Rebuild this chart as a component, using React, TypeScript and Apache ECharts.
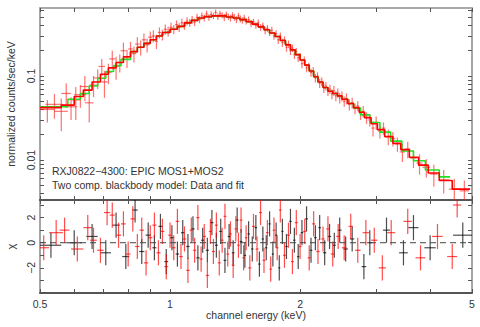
import React, { useEffect, useRef } from 'react';
import * as echarts from 'echarts';

// ---------- data ----------
// model step functions: bin edges (keV) and model values (counts/sec/keV)
const redEdges = [0.5, 0.56, 0.6, 0.63, 0.66, 0.69, 0.72, 0.75, 0.78, 0.81, 0.84, 0.87, 0.9, 0.93, 0.96, 1.0, 1.04, 1.08, 1.12, 1.16, 1.2, 1.25, 1.3, 1.35, 1.4, 1.45, 1.5, 1.55, 1.6, 1.65, 1.7, 1.75, 1.8, 1.85, 1.9, 1.95, 2.0, 2.05, 2.1, 2.15, 2.2, 2.26, 2.32, 2.38, 2.44, 2.5, 2.58, 2.66, 2.74, 2.82, 2.92, 3.02, 3.14, 3.28, 3.42, 3.58, 3.76, 3.96, 4.2, 4.5, 4.95];
const redModel = [0.042, 0.045, 0.057, 0.068, 0.085, 0.105, 0.125, 0.145, 0.17, 0.195, 0.22, 0.245, 0.27, 0.30, 0.33, 0.36, 0.39, 0.43, 0.46, 0.49, 0.51, 0.52, 0.52, 0.505, 0.49, 0.47, 0.445, 0.415, 0.385, 0.355, 0.325, 0.295, 0.265, 0.235, 0.205, 0.18, 0.155, 0.135, 0.115, 0.098, 0.085, 0.073, 0.066, 0.062, 0.058, 0.053, 0.047, 0.042, 0.037, 0.032, 0.027, 0.023, 0.019, 0.0158, 0.0133, 0.0108, 0.0087, 0.0070, 0.0057, 0.0045];
const greenEdges = [0.5, 0.58, 0.62, 0.65, 0.68, 0.71, 0.74, 0.77, 0.81, 0.84, 0.87, 0.9, 0.93, 0.96, 1.0, 1.04, 1.08, 1.12, 1.16, 1.2, 1.25, 1.3, 1.35, 1.4, 1.45, 1.5, 1.55, 1.6, 1.65, 1.7, 1.75, 1.8, 1.85, 1.9, 1.95, 2.0, 2.05, 2.1, 2.15, 2.2, 2.26, 2.32, 2.38, 2.44, 2.5, 2.58, 2.66, 2.76, 2.9, 3.06, 3.24, 3.44, 3.66, 3.9, 4.2, 4.45];
const greenModel = [0.043, 0.053, 0.062, 0.076, 0.094, 0.113, 0.133, 0.158, 0.195, 0.22, 0.245, 0.27, 0.30, 0.33, 0.36, 0.39, 0.43, 0.46, 0.49, 0.51, 0.52, 0.52, 0.505, 0.49, 0.47, 0.445, 0.415, 0.385, 0.355, 0.325, 0.295, 0.265, 0.235, 0.205, 0.18, 0.155, 0.135, 0.115, 0.098, 0.085, 0.073, 0.066, 0.062, 0.058, 0.053, 0.047, 0.0415, 0.0345, 0.028, 0.0215, 0.0168, 0.0128, 0.0098, 0.0076, 0.0063];

// spectrum points: [energy, half bin width, value, 1-sigma error]
const spectrumRows = [
  [0.52, 0.02, 0.040, 0.012], [0.54, 0.025, 0.046, 0.015], [0.56, 0.02, 0.038, 0.016], [0.575, 0.015, 0.062, 0.02],
  [0.59, 0.02, 0.043, 0.013], [0.605, 0.015, 0.052, 0.022], [0.62, 0.02, 0.060, 0.018], [0.635, 0.015, 0.075, 0.025],
  [0.65, 0.015, 0.048, 0.02], [0.665, 0.015, 0.078, 0.022], [0.68, 0.015, 0.095, 0.025], [0.695, 0.012, 0.13, 0.03],
  [0.705, 0.012, 0.085, 0.03], [0.72, 0.012, 0.11, 0.03], [0.735, 0.012, 0.16, 0.04], [0.75, 0.012, 0.13, 0.04],
  [0.765, 0.012, 0.145, 0.035], [0.78, 0.012, 0.2, 0.05], [0.795, 0.01, 0.165, 0.04], [0.81, 0.01, 0.21, 0.045],
  [0.825, 0.01, 0.185, 0.04], [0.84, 0.01, 0.24, 0.05], [0.855, 0.01, 0.22, 0.045], [0.87, 0.01, 0.27, 0.05],
  [0.885, 0.01, 0.235, 0.045], [0.9, 0.01, 0.29, 0.05], [0.915, 0.008, 0.3, 0.05], [0.93, 0.008, 0.26, 0.05],
  [0.945, 0.008, 0.33, 0.05], [0.96, 0.008, 0.31, 0.045], [0.975, 0.008, 0.36, 0.05], [0.99, 0.008, 0.34, 0.045],
  [1.005, 0.008, 0.38, 0.05], [1.02, 0.008, 0.36, 0.045], [1.035, 0.008, 0.41, 0.05], [1.05, 0.008, 0.38, 0.045],
  [1.065, 0.008, 0.43, 0.05], [1.08, 0.008, 0.40, 0.045], [1.095, 0.008, 0.45, 0.05], [1.11, 0.008, 0.43, 0.045],
  [1.125, 0.008, 0.47, 0.05], [1.14, 0.008, 0.44, 0.045], [1.155, 0.008, 0.5, 0.05], [1.17, 0.008, 0.47, 0.045],
  [1.185, 0.008, 0.52, 0.05], [1.2, 0.008, 0.49, 0.045], [1.215, 0.008, 0.55, 0.05], [1.23, 0.008, 0.5, 0.045],
  [1.245, 0.008, 0.54, 0.05], [1.26, 0.008, 0.52, 0.045], [1.275, 0.008, 0.57, 0.05], [1.29, 0.008, 0.51, 0.045],
  [1.305, 0.008, 0.55, 0.05], [1.32, 0.008, 0.53, 0.045], [1.335, 0.008, 0.5, 0.05], [1.35, 0.008, 0.54, 0.045],
  [1.365, 0.008, 0.51, 0.045], [1.38, 0.008, 0.49, 0.045], [1.395, 0.008, 0.53, 0.045], [1.41, 0.008, 0.5, 0.045],
  [1.425, 0.008, 0.47, 0.045], [1.44, 0.008, 0.52, 0.045], [1.455, 0.008, 0.48, 0.045], [1.47, 0.008, 0.46, 0.04],
  [1.485, 0.008, 0.49, 0.045], [1.5, 0.008, 0.45, 0.04], [1.52, 0.01, 0.47, 0.04], [1.54, 0.01, 0.42, 0.04],
  [1.56, 0.01, 0.44, 0.04], [1.58, 0.01, 0.4, 0.035], [1.6, 0.01, 0.43, 0.04], [1.62, 0.01, 0.38, 0.035],
  [1.64, 0.01, 0.40, 0.035], [1.66, 0.01, 0.35, 0.035], [1.68, 0.01, 0.37, 0.035], [1.7, 0.01, 0.33, 0.03],
  [1.72, 0.01, 0.35, 0.035], [1.74, 0.01, 0.3, 0.03], [1.76, 0.01, 0.32, 0.03], [1.78, 0.01, 0.27, 0.03],
  [1.8, 0.01, 0.3, 0.03], [1.82, 0.01, 0.25, 0.028], [1.84, 0.01, 0.27, 0.028], [1.86, 0.01, 0.22, 0.025],
  [1.88, 0.01, 0.24, 0.025], [1.9, 0.01, 0.2, 0.022], [1.92, 0.01, 0.215, 0.022], [1.94, 0.01, 0.18, 0.02],
  [1.96, 0.01, 0.195, 0.02], [1.98, 0.01, 0.165, 0.018], [2.0, 0.01, 0.17, 0.018], [2.02, 0.012, 0.14, 0.016],
  [2.045, 0.012, 0.155, 0.016], [2.07, 0.012, 0.125, 0.014], [2.095, 0.012, 0.13, 0.014], [2.12, 0.012, 0.11, 0.012],
  [2.145, 0.012, 0.115, 0.013], [2.17, 0.012, 0.095, 0.011], [2.195, 0.012, 0.1, 0.011], [2.22, 0.012, 0.082, 0.01],
  [2.245, 0.012, 0.086, 0.01], [2.27, 0.012, 0.072, 0.009], [2.295, 0.012, 0.076, 0.009], [2.32, 0.012, 0.066, 0.008],
  [2.345, 0.012, 0.07, 0.009], [2.37, 0.012, 0.061, 0.008], [2.395, 0.012, 0.067, 0.009], [2.42, 0.012, 0.058, 0.008],
  [2.445, 0.012, 0.063, 0.008], [2.47, 0.012, 0.055, 0.008], [2.5, 0.015, 0.058, 0.008], [2.53, 0.015, 0.05, 0.007],
  [2.56, 0.015, 0.054, 0.008], [2.6, 0.02, 0.046, 0.007], [2.64, 0.02, 0.048, 0.007], [2.68, 0.02, 0.041, 0.006],
  [2.72, 0.02, 0.044, 0.006], [2.76, 0.02, 0.036, 0.006], [2.8, 0.02, 0.038, 0.006], [2.85, 0.025, 0.032, 0.005],
  [2.9, 0.025, 0.03, 0.005], [2.95, 0.025, 0.024, 0.005], [3.0, 0.03, 0.028, 0.005], [3.06, 0.03, 0.022, 0.004],
  [3.12, 0.03, 0.024, 0.004], [3.2, 0.04, 0.019, 0.004], [3.28, 0.04, 0.018, 0.0035], [3.36, 0.04, 0.0155, 0.003],
  [3.45, 0.05, 0.0125, 0.003], [3.55, 0.05, 0.0135, 0.003], [3.66, 0.06, 0.0105, 0.0025], [3.78, 0.06, 0.0092, 0.0025],
  [3.92, 0.08, 0.0082, 0.002], [4.08, 0.08, 0.0068, 0.002], [4.3, 0.12, 0.0058, 0.0018], [4.55, 0.13, 0.0045, 0.0015],
  [4.8, 0.12, 0.0043, 0.0014],
];

// residuals in sigma units: [energy, half bin width, chi]
const residBlack = [
  [0.53, 0.03, -0.2], [0.6, 0.025, 0.0], [0.66, 0.02, 0.5], [0.71, 0.02, -0.8], [0.75, 0.015, 1.4],
  [0.79, 0.015, -1.1], [0.83, 0.012, 2.6], [0.86, 0.012, -0.7], [0.89, 0.012, 0.6], [0.92, 0.01, -0.4],
  [0.95, 0.01, 1.3], [0.98, 0.01, -1.5], [1.01, 0.01, 0.4], [1.04, 0.01, -0.9], [1.07, 0.01, 0.8],
  [1.1, 0.01, -0.3], [1.13, 0.01, 1.1], [1.16, 0.01, -1.2], [1.19, 0.01, 0.2], [1.22, 0.01, -0.6],
  [1.25, 0.01, 1.6], [1.28, 0.01, -0.2], [1.31, 0.01, 0.9], [1.34, 0.01, -1.4], [1.37, 0.01, 0.5],
  [1.4, 0.01, -0.8], [1.43, 0.01, 1.8], [1.46, 0.01, 0.1], [1.49, 0.01, -1.0], [1.52, 0.01, 0.7],
  [1.55, 0.01, -0.5], [1.58, 0.01, 1.2], [1.61, 0.01, -1.7], [1.64, 0.01, 0.3], [1.67, 0.01, -0.4],
  [1.7, 0.01, 1.5], [1.73, 0.01, -0.9], [1.76, 0.01, 0.6], [1.79, 0.01, -2.0], [1.82, 0.01, 0.9],
  [1.86, 0.012, -0.3], [1.9, 0.012, 1.7], [1.94, 0.012, 0.2], [1.98, 0.012, -1.1], [2.02, 0.015, 0.8],
  [2.07, 0.015, 1.9], [2.12, 0.015, -0.6], [2.17, 0.015, 0.4], [2.22, 0.015, 1.2], [2.28, 0.02, -0.8],
  [2.34, 0.02, 0.5], [2.4, 0.02, -0.2], [2.47, 0.025, 1.0], [2.55, 0.03, -0.5], [2.64, 0.03, 0.3],
  [2.81, 0.035, -1.9], [2.9, 0.04, 0.0], [3.17, 0.06, 1.0], [3.47, 0.08, -0.8], [3.66, 0.1, 1.2],
  [4.0, 0.12, -0.4], [4.76, 0.24, 0.6],
];
const residRed = [
  [0.51, 0.015, -0.4], [0.545, 0.02, 0.8], [0.57, 0.015, 1.0], [0.61, 0.02, -0.5], [0.645, 0.015, 1.2],
  [0.665, 0.012, 0.2], [0.69, 0.012, -0.6], [0.715, 0.012, 2.4], [0.735, 0.01, 2.2], [0.76, 0.01, 0.6],
  [0.78, 0.01, 1.5], [0.8, 0.01, -0.9], [0.82, 0.01, 1.9], [0.84, 0.01, -0.3], [0.86, 0.01, 1.0],
  [0.88, 0.01, -1.6], [0.9, 0.01, 0.4], [0.92, 0.01, 1.4], [0.94, 0.01, -0.8], [0.96, 0.01, 0.9],
  [0.98, 0.01, -1.9], [1.0, 0.01, 0.6], [1.02, 0.01, -0.4], [1.04, 0.01, 1.7], [1.06, 0.01, -1.1],
  [1.08, 0.01, 0.3], [1.1, 0.01, -2.2], [1.12, 0.01, 1.0], [1.14, 0.01, -0.6], [1.16, 0.01, 2.0],
  [1.18, 0.01, -1.3], [1.2, 0.01, 0.5], [1.22, 0.01, -2.6], [1.24, 0.01, 0.9], [1.26, 0.01, -0.7],
  [1.28, 0.01, 1.4], [1.3, 0.01, -1.6], [1.32, 0.01, 0.2], [1.34, 0.01, 2.1], [1.36, 0.01, -0.9],
  [1.38, 0.01, 0.7], [1.4, 0.01, -1.8], [1.42, 0.01, 1.1], [1.44, 0.01, -0.2], [1.46, 0.01, 1.8],
  [1.48, 0.01, -1.2], [1.5, 0.01, 0.4], [1.53, 0.012, -2.0], [1.56, 0.012, 1.3], [1.59, 0.012, -0.5],
  [1.62, 0.012, 2.4], [1.65, 0.012, -1.4], [1.68, 0.012, 0.8], [1.71, 0.012, -2.1], [1.74, 0.012, 1.0],
  [1.77, 0.012, -0.4], [1.8, 0.012, 2.6], [1.84, 0.015, -1.0], [1.88, 0.015, 0.6], [1.92, 0.015, -1.5],
  [1.96, 0.015, 1.6], [2.0, 0.015, -0.3], [2.05, 0.018, 0.9], [2.1, 0.018, -1.2], [2.15, 0.018, 1.5],
  [2.2, 0.02, -0.7], [2.26, 0.02, 0.3], [2.32, 0.02, 1.1], [2.38, 0.025, -0.9], [2.45, 0.025, 0.5],
  [2.53, 0.03, -0.4], [2.62, 0.03, 1.3], [2.72, 0.04, -0.6], [2.84, 0.05, 0.8], [2.97, 0.05, 0.2],
  [3.1, 0.06, -2.0], [3.25, 0.07, 0.8], [3.55, 0.08, 1.7], [3.8, 0.1, -1.2], [4.16, 0.12, 0.5],
  [4.5, 0.12, -1.1], [4.62, 0.1, 3.0],
];

const xLabelTicks = [0.5, 1, 2, 5];
const xAllTicks = [0.5, 0.6, 0.7, 0.8, 0.9, 1, 2, 3, 4, 5];
const yTopLabelTicks = [0.01, 0.1];
const yTopAllTicks = [0.004, 0.005, 0.006, 0.007, 0.008, 0.009, 0.01, 0.02, 0.03, 0.04, 0.05, 0.06, 0.07, 0.08, 0.09, 0.1, 0.2, 0.3, 0.4, 0.5, 0.6];
const resLabelTicks = [-2, 0, 2];
const resAllTicks = [-3, -2, -1, 0, 1, 2, 3];

// ---------- helpers ----------
const lg = (v: number) => Math.log10(v);
const X_MIN = lg(0.5);
const X_MAX = lg(5);
const Y_TOP_MIN = -2.476;
const Y_TOP_MAX = -0.19;

const FONT = 'Liberation Sans, Arial, Helvetica, sans-serif';
const TXT = '#333';

function stepPoints(edges: number[], vals: number[]) {
  const pts: number[][] = [];
  for (let i = 0; i < vals.length; i++) {
    pts.push([lg(edges[i]), lg(vals[i])]);
    pts.push([lg(edges[i + 1]), lg(vals[i])]);
  }
  return pts;
}

function crossSeries(data: number[][], axisIndex: number, color: string, width: number) {
  return {
    type: 'custom',
    xAxisIndex: axisIndex,
    yAxisIndex: axisIndex,
    clip: true,
    silent: true,
    data,
    encode: { x: [0, 1, 2], y: [3, 4, 5] },
    renderItem: (_p: any, api: any) => {
      const xl = api.value(0), xh = api.value(1), xc = api.value(2);
      const yl = api.value(3), yh = api.value(4), yc = api.value(5);
      const a = api.coord([xl, yc]);
      const b = api.coord([xh, yc]);
      const c = api.coord([xc, yl]);
      const d = api.coord([xc, yh]);
      return {
        type: 'group',
        children: [
          { type: 'line', shape: { x1: a[0], y1: a[1], x2: b[0], y2: b[1] }, style: { stroke: color, lineWidth: width } },
          { type: 'line', shape: { x1: c[0], y1: c[1], x2: d[0], y2: d[1] }, style: { stroke: color, lineWidth: width } },
        ],
      };
    },
  };
}

const fmtE = (v: number) => String(Math.round(Math.pow(10, v) * 100) / 100);
const fmtTopY = (v: number) => String(Math.round(Math.pow(10, v) * 1000) / 1000);
const fmtRes = (v: number) => (v < 0 ? '\u2212' + Math.abs(Math.round(v)) : String(Math.round(v)));

function xAxisDef(gridIndex: number, position: string, labels: boolean, lineColor: string, extra: any = {}) {
  return {
    type: 'value',
    gridIndex,
    position,
    min: X_MIN,
    max: X_MAX,
    axisLine: { show: true, onZero: false, lineStyle: { color: lineColor, width: 2 } },
    axisTick: { show: true, inside: true, length: 4, customValues: xAllTicks.map(lg), lineStyle: { color: '#555', width: 1 } },
    axisLabel: labels
      ? { show: true, customValues: xLabelTicks.map(lg), formatter: fmtE, margin: 5, fontFamily: FONT, fontSize: 10.5, color: TXT }
      : { show: false },
    splitLine: { show: false },
    ...extra,
  };
}

function yAxisDef(gridIndex: number, position: string, min: number, max: number, ticks: number[], labelTicks: number[] | null, fmt: any, extra: any = {}) {
  return {
    type: 'value',
    gridIndex,
    position,
    min,
    max,
    axisLine: { show: true, onZero: false, lineStyle: { color: '#888', width: 1.5 } },
    axisTick: { show: true, inside: true, length: 4, customValues: ticks, lineStyle: { color: '#555', width: 1 } },
    axisLabel: labelTicks
      ? { show: true, customValues: labelTicks, formatter: fmt, rotate: 90, margin: 4, fontFamily: FONT, fontSize: 10.5, color: TXT }
      : { show: false },
    splitLine: { show: false },
    ...extra,
  };
}

export default function App() {
  const ref = useRef<HTMLDivElement>(null);

  useEffect(() => {
    if (!ref.current) return;
    const chart = echarts.init(ref.current, null, { renderer: 'svg' });

    const specData = spectrumRows.map(([e, de, v, err]) => [
      lg(e - de), lg(e + de), lg(e),
      lg(Math.max(v - err, 1e-4)), lg(v + err), lg(v),
    ]);
    const blackData = residBlack.map(([e, de, r]) => [lg(e - de), lg(e + de), lg(e), r - 1, r + 1, r]);
    const redData = residRed.map(([e, de, r]) => [lg(e - de), lg(e + de), lg(e), r - 1, r + 1, r]);

    const option: any = {
      animation: false,
      backgroundColor: '#fff',
      grid: [
        { left: 40, right: 8, top: 8, height: 192, containLabel: false, outerBoundsMode: 'none' },
        { left: 40, right: 8, top: 200, height: 93, containLabel: false, outerBoundsMode: 'none' },
      ],
      xAxis: [
        xAxisDef(0, 'bottom', false, '#555'),
        xAxisDef(0, 'top', false, '#aaa'),
        xAxisDef(1, 'bottom', true, '#555', {
          name: 'channel energy (keV)',
          nameLocation: 'middle',
          nameGap: 16,
          nameTextStyle: { fontFamily: FONT, fontSize: 10.5, color: TXT },
        }),
        xAxisDef(1, 'top', false, '#555'),
      ],
      yAxis: [
        yAxisDef(0, 'left', Y_TOP_MIN, Y_TOP_MAX, yTopAllTicks.map(lg), yTopLabelTicks.map(lg), fmtTopY, {
          name: 'normalized counts/sec/keV',
          nameLocation: 'middle',
          nameGap: 24,
          nameTextStyle: { fontFamily: FONT, fontSize: 10.5, color: TXT },
        }),
        yAxisDef(0, 'right', Y_TOP_MIN, Y_TOP_MAX, yTopAllTicks.map(lg), null, null),
        yAxisDef(1, 'left', -4, 3.4, resAllTicks, resLabelTicks, fmtRes, {
          name: '\u03c7',
          nameLocation: 'middle',
          nameGap: 24,
          nameTextStyle: { fontFamily: FONT, fontSize: 11, color: TXT },
        }),
        yAxisDef(1, 'right', -4, 3.4, resAllTicks, null, null),
      ],
      series: [
        crossSeries(specData, 0, 'rgba(255,20,20,0.6)', 1.2),
        {
          type: 'line', xAxisIndex: 0, yAxisIndex: 0, data: stepPoints(greenEdges, greenModel),
          showSymbol: false, silent: true, clip: true,
          lineStyle: { color: '#22e022', width: 1.6 },
        },
        {
          type: 'line', xAxisIndex: 0, yAxisIndex: 0, data: stepPoints(redEdges, redModel),
          showSymbol: false, silent: true, clip: true,
          lineStyle: { color: '#ff0000', width: 1.6 },
        },
        {
          type: 'line', xAxisIndex: 2, yAxisIndex: 2, data: [[X_MIN, 0], [X_MAX, 0]],
          showSymbol: false, silent: true,
          lineStyle: { color: '#444', width: 1, type: [6, 4] },
        },
        crossSeries(blackData, 2, 'rgba(0,0,0,0.7)', 1.2),
        crossSeries(redData, 2, 'rgba(255,0,0,0.7)', 1.2),
      ],
      graphic: [
        {
          type: 'text', left: 52, top: 165, silent: true,
          style: { text: 'RXJ0822\u22124300: EPIC MOS1+MOS2', fill: TXT, font: `10.5px ${FONT}` },
        },
        {
          type: 'text', left: 52, top: 179, silent: true,
          style: { text: 'Two comp. blackbody model: Data and fit', fill: TXT, font: `10.5px ${FONT}` },
        },
      ],
    };

    chart.setOption(option);
    return () => chart.dispose();
  }, []);

  return (
    <div
      ref={ref}
      style={{ position: 'fixed', left: 0, top: 0, width: 480, height: 327, background: '#fff' }}
    />
  );
}
